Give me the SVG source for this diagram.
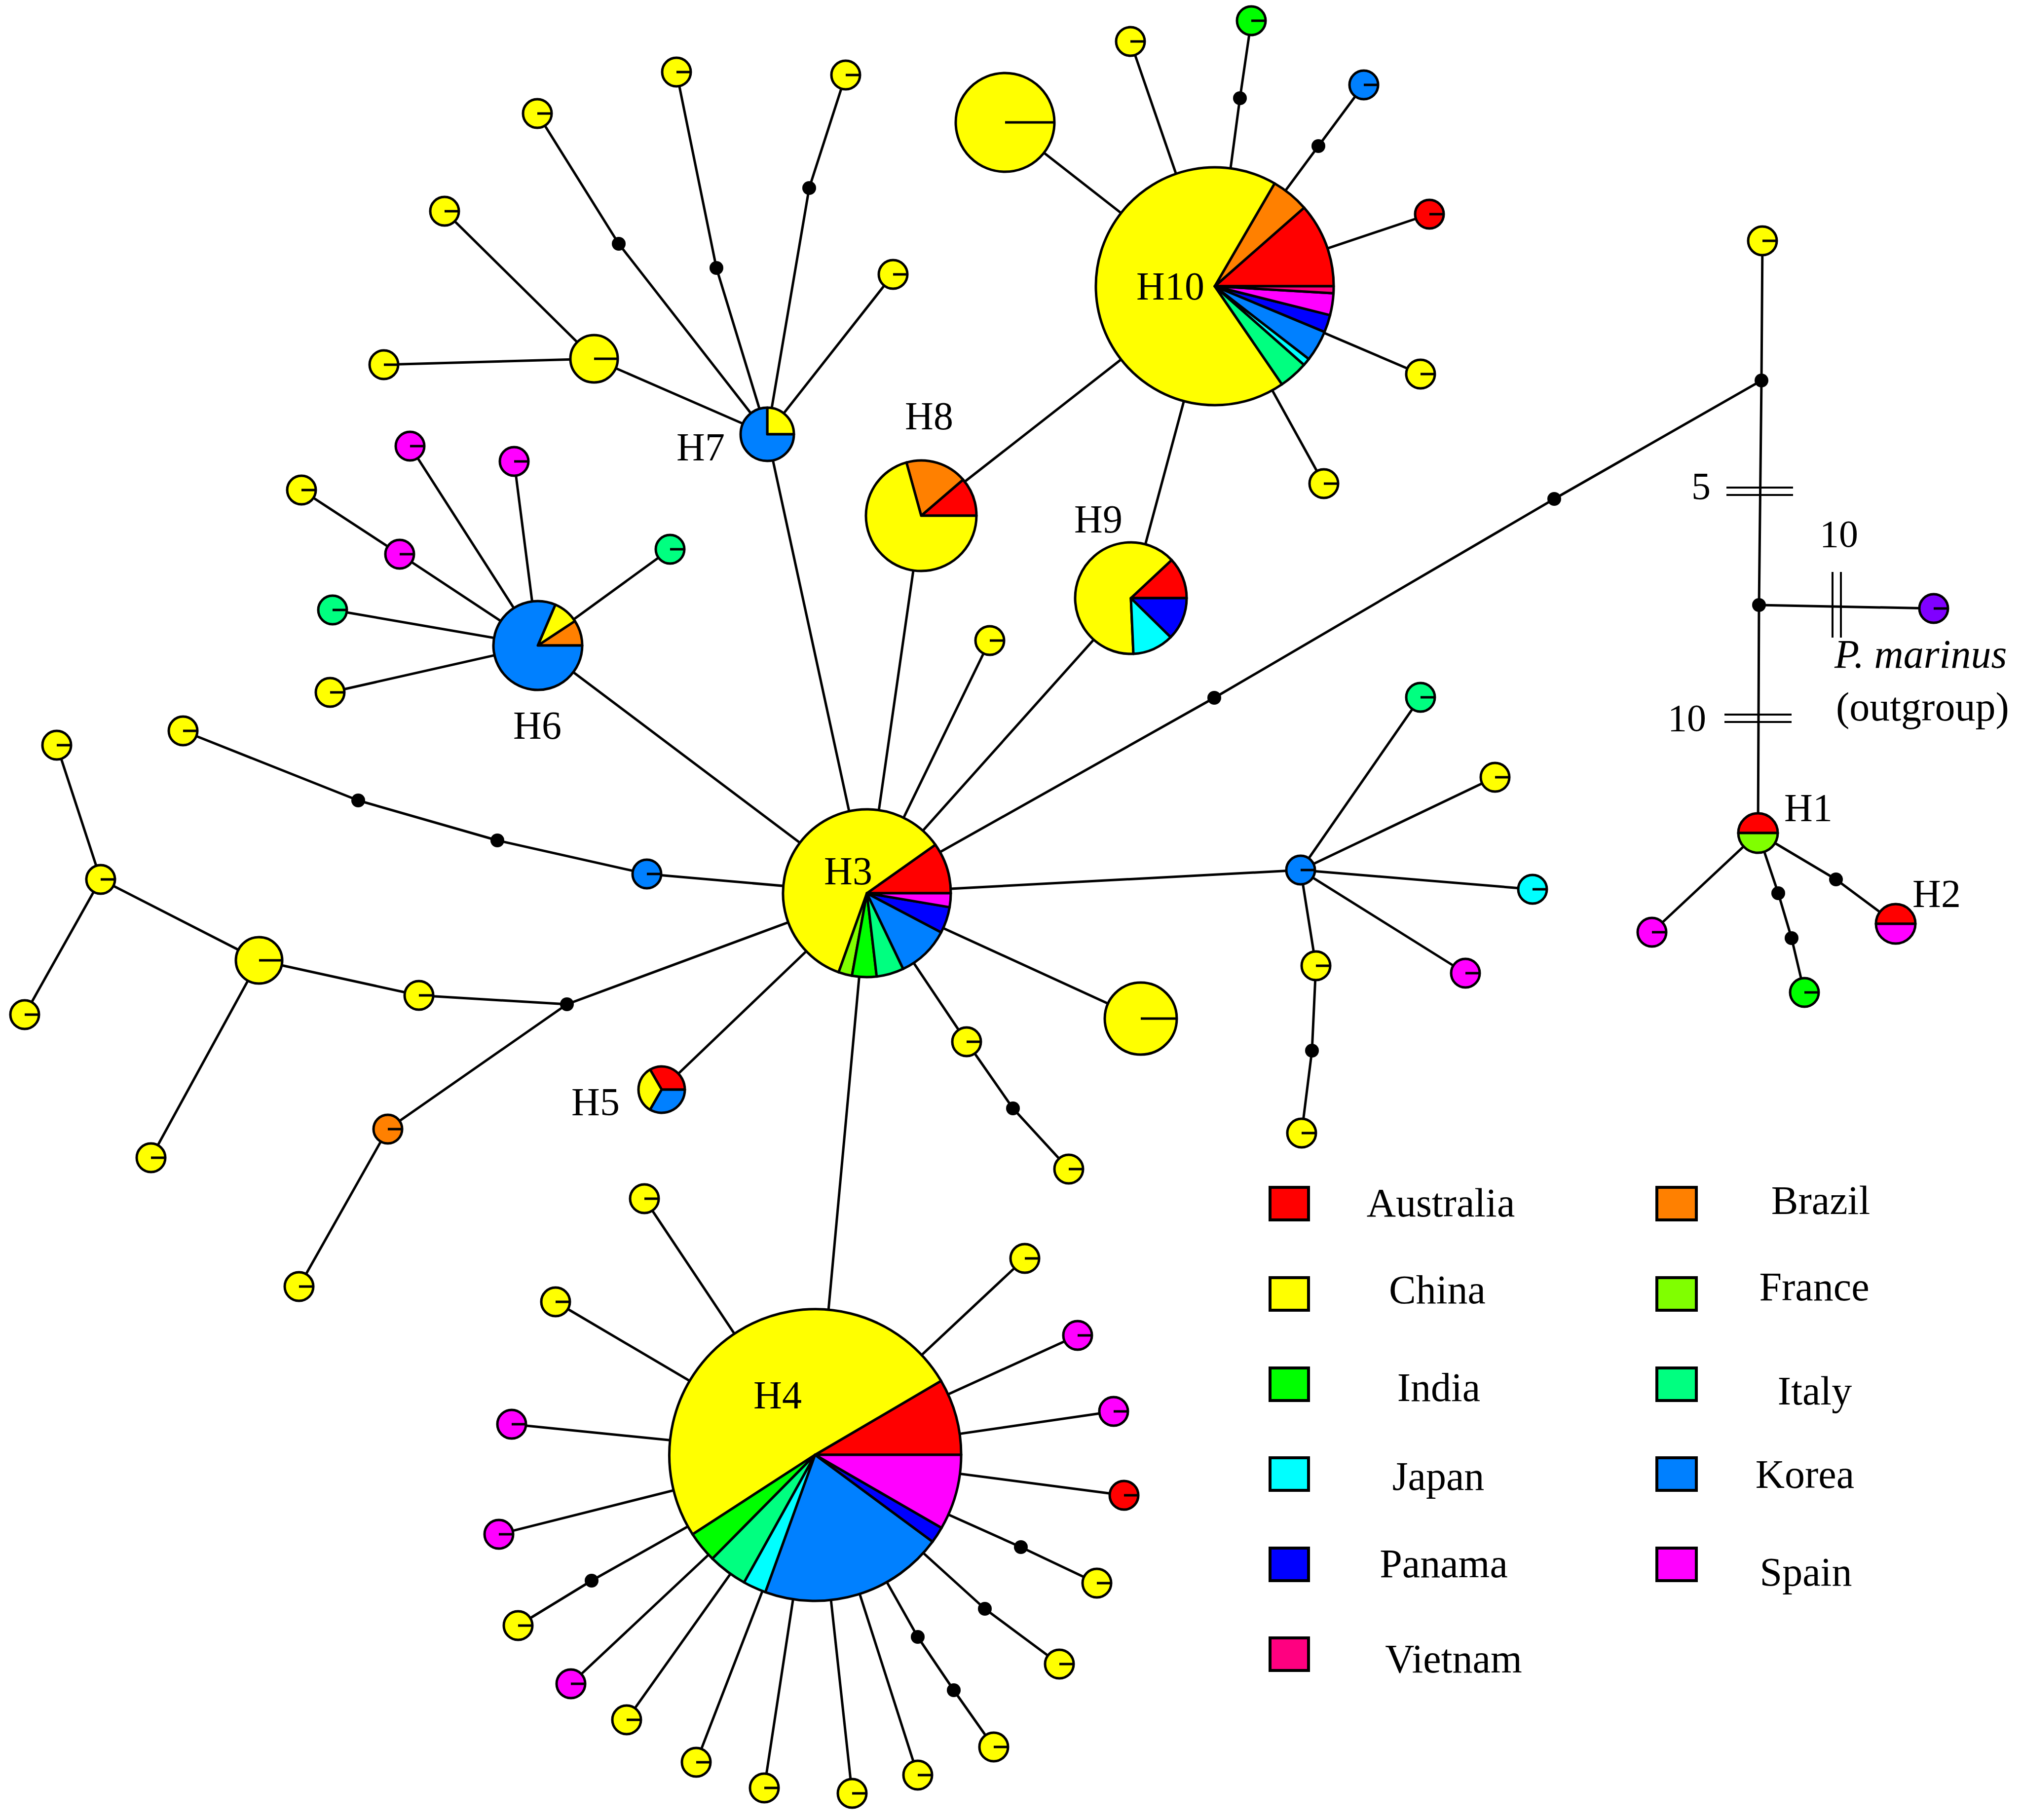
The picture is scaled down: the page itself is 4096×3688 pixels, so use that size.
<svg xmlns="http://www.w3.org/2000/svg" width="4096" height="3688" viewBox="0 0 4096 3688">
<style>
.e path{fill:none;stroke:#000;stroke-width:5;stroke-linejoin:round}
.n circle,.n path{stroke:#000;stroke-width:5;stroke-linejoin:round}
.n .r{fill:none}
.d{fill:#000}
.au{fill:#ff0000}.br{fill:#ff8000}.cn{fill:#ffff00}.fr{fill:#80ff00}.in{fill:#00ff00}.it{fill:#00ff80}.jp{fill:#00ffff}.kr{fill:#0080ff}.pa{fill:#0000ff}.es{fill:#ff00ff}.vn{fill:#ff0080}.pm{fill:#8000ff}
text{font-family:"Liberation Serif","Times New Roman",serif;fill:#000}
.lb{font-size:80px;text-anchor:middle}
.lg{font-size:82px;text-anchor:middle}
.nm{font-size:78px}
.bar{stroke:#000;stroke-width:4;fill:none}
.key rect{stroke:#000;stroke-width:6}
</style>
<rect width="4096" height="3688" fill="#fff"/>
<g id="edges" class="e">
<path d="M1555 880L1810 556"/>
<path d="M1555 880L1640 381L1714 152"/>
<path d="M1555 880L1452 543L1371 146"/>
<path d="M1555 880L1254 494L1089 230"/>
<path d="M1555 880L1204 727"/>
<path d="M1204 727L901 428"/>
<path d="M1204 727L778 739"/>
<path d="M1555 880L1757 1810"/>
<path d="M1090 1308L831 904"/>
<path d="M1090 1308L1042 935"/>
<path d="M1090 1308L810 1123L611 993"/>
<path d="M1090 1308L1358 1113"/>
<path d="M1090 1308L674 1236"/>
<path d="M1090 1308L669 1403"/>
<path d="M1090 1308L1757 1810"/>
<path d="M1757 1810L1867 1045"/>
<path d="M1757 1810L2006 1298"/>
<path d="M1757 1810L2292 1212"/>
<path d="M1757 1810L2461 1414L3150 1011L3570 771"/>
<path d="M1757 1810L2636 1763"/>
<path d="M1757 1810L2312 2064"/>
<path d="M1757 1810L1959 2111L2053 2246L2166 2369"/>
<path d="M1757 1810L1652 2948"/>
<path d="M1757 1810L1341 2208"/>
<path d="M1757 1810L1149 2035L849 2017L525 1946"/>
<path d="M1149 2035L786 2288L606 2607"/>
<path d="M1757 1810L1311 1771L1008 1703L726 1622L371 1481"/>
<path d="M525 1946L306 2346"/>
<path d="M525 1946L204 1782L115 1510"/>
<path d="M204 1782L50 2056"/>
<path d="M2636 1763L2879 1413"/>
<path d="M2636 1763L3030 1575"/>
<path d="M2636 1763L3106 1802"/>
<path d="M2636 1763L2970 1972"/>
<path d="M2636 1763L2667 1957L2659 2129L2638 2296"/>
<path d="M2462 580L2037 248"/>
<path d="M2462 580L2291 84"/>
<path d="M2462 580L2513 199L2536 42"/>
<path d="M2462 580L2672 296L2764 172"/>
<path d="M2462 580L2897 434"/>
<path d="M2462 580L2879 758"/>
<path d="M2462 580L2683 980"/>
<path d="M2462 580L2292 1212"/>
<path d="M2462 580L1867 1045"/>
<path d="M1652 2948L1306 2429"/>
<path d="M1652 2948L1126 2638"/>
<path d="M1652 2948L1037 2886"/>
<path d="M1652 2948L1011 3109"/>
<path d="M1652 2948L1199 3203L1050 3294"/>
<path d="M1652 2948L1157 3412"/>
<path d="M1652 2948L1270 3485"/>
<path d="M1652 2948L1411 3571"/>
<path d="M1652 2948L1549 3623"/>
<path d="M1652 2948L1727 3634"/>
<path d="M1652 2948L1860 3597"/>
<path d="M1652 2948L1860 3317L1933 3425L2014 3540"/>
<path d="M1652 2948L1996 3260L2147 3372"/>
<path d="M1652 2948L2069 3135L2223 3208"/>
<path d="M1652 2948L2278 3030"/>
<path d="M1652 2948L2257 2860"/>
<path d="M1652 2948L2184 2706"/>
<path d="M1652 2948L2077 2550"/>
<path d="M3572 488L3570 771L3565 1226L3563 1688"/>
<path d="M3565 1226L3919 1233"/>
<path d="M3563 1688L3721 1782L3842 1872"/>
<path d="M3563 1688L3604 1810L3631 1901L3657 2011"/>
<path d="M3563 1688L3348 1889"/>
</g>
<g id="mutations">
<path class="bar" d="M3499 988H3634M3499 1003H3634"/>
<path class="bar" d="M3495 1448H3631M3495 1463H3631"/>
<path class="bar" d="M3714 1159V1292M3731 1159V1292"/>
<text class="nm" x="3428" y="1011">5</text>
<text class="nm" x="3380" y="1481">10</text>
<text class="nm" x="3688" y="1108">10</text>
</g>
<g id="median-vectors">
<circle class="d" cx="1254" cy="494" r="14"/>
<circle class="d" cx="1452" cy="543" r="14"/>
<circle class="d" cx="1640" cy="381" r="14"/>
<circle class="d" cx="2513" cy="199" r="14"/>
<circle class="d" cx="2672" cy="296" r="14"/>
<circle class="d" cx="2461" cy="1414" r="14"/>
<circle class="d" cx="3150" cy="1011" r="14"/>
<circle class="d" cx="3570" cy="771" r="14"/>
<circle class="d" cx="3565" cy="1226" r="14"/>
<circle class="d" cx="2659" cy="2129" r="14"/>
<circle class="d" cx="2053" cy="2246" r="14"/>
<circle class="d" cx="1149" cy="2035" r="14"/>
<circle class="d" cx="1008" cy="1703" r="14"/>
<circle class="d" cx="726" cy="1622" r="14"/>
<circle class="d" cx="1199" cy="3203" r="14"/>
<circle class="d" cx="1860" cy="3317" r="14"/>
<circle class="d" cx="1933" cy="3425" r="14"/>
<circle class="d" cx="1996" cy="3260" r="14"/>
<circle class="d" cx="2069" cy="3135" r="14"/>
<circle class="d" cx="3721" cy="1782" r="14"/>
<circle class="d" cx="3604" cy="1810" r="14"/>
<circle class="d" cx="3631" cy="1901" r="14"/>
</g>
<g id="H10" class="n">
<path class="au" d="M2462 580L2703 580A241 241 0 0 0 2643.1 420.9Z"/>
<path class="br" d="M2462 580L2643.1 420.9A241 241 0 0 0 2583.2 371.7Z"/>
<path class="cn" d="M2462 580L2583.2 371.7A241 241 0 1 0 2598.2 778.8Z"/>
<path class="it" d="M2462 580L2598.2 778.8A241 241 0 0 0 2642.8 739.4Z"/>
<path class="jp" d="M2462 580L2642.8 739.4A241 241 0 0 0 2652.7 727.4Z"/>
<path class="kr" d="M2462 580L2652.7 727.4A241 241 0 0 0 2684.5 672.6Z"/>
<path class="pa" d="M2462 580L2684.5 672.6A241 241 0 0 0 2695.7 638.7Z"/>
<path class="es" d="M2462 580L2695.7 638.7A241 241 0 0 0 2702.6 594.3Z"/>
<path class="vn" d="M2462 580L2702.6 594.3A241 241 0 0 0 2703 580Z"/>
<text class="lb" x="2372" y="607">H10</text>
</g>
<g id="H3" class="n">
<path class="au" d="M1757 1810L1927 1810A170 170 0 0 0 1895.7 1711.8Z"/>
<path class="cn" d="M1757 1810L1895.7 1711.8A170 170 0 1 0 1699.7 1970.1Z"/>
<path class="fr" d="M1757 1810L1699.7 1970.1A170 170 0 0 0 1726.6 1977.3Z"/>
<path class="in" d="M1757 1810L1726.6 1977.3A170 170 0 0 0 1776.8 1978.8Z"/>
<path class="it" d="M1757 1810L1776.8 1978.8A170 170 0 0 0 1830.5 1963.3Z"/>
<path class="kr" d="M1757 1810L1830.5 1963.3A170 170 0 0 0 1907.4 1889.3Z"/>
<path class="pa" d="M1757 1810L1907.4 1889.3A170 170 0 0 0 1924.6 1838.4Z"/>
<path class="es" d="M1757 1810L1924.6 1838.4A170 170 0 0 0 1927 1810Z"/>
<text class="lb" x="1719" y="1792">H3</text>
</g>
<g id="H4" class="n">
<path class="au" d="M1652 2948L1948 2948A296 296 0 0 0 1907.3 2798.2Z"/>
<path class="cn" d="M1652 2948L1907.3 2798.2A296 296 0 1 0 1403.7 3109.2Z"/>
<path class="in" d="M1652 2948L1403.7 3109.2A296 296 0 0 0 1443.8 3158.4Z"/>
<path class="it" d="M1652 2948L1443.8 3158.4A296 296 0 0 0 1508.1 3206.6Z"/>
<path class="jp" d="M1652 2948L1508.1 3206.6A296 296 0 0 0 1551.2 3226.3Z"/>
<path class="kr" d="M1652 2948L1551.2 3226.3A296 296 0 0 0 1890 3124.1Z"/>
<path class="pa" d="M1652 2948L1890 3124.1A296 296 0 0 0 1908.3 3096Z"/>
<path class="es" d="M1652 2948L1908.3 3096A296 296 0 0 0 1948 2948Z"/>
<text class="lb" x="1576" y="2854">H4</text>
</g>
<g id="H9" class="n">
<path class="au" d="M2292 1212L2405 1212A113 113 0 0 0 2374.5 1134.8Z"/>
<path class="cn" d="M2292 1212L2374.5 1134.8A113 113 0 1 0 2297.1 1324.9Z"/>
<path class="jp" d="M2292 1212L2297.1 1324.9A113 113 0 0 0 2372.7 1291.1Z"/>
<path class="pa" d="M2292 1212L2372.7 1291.1A113 113 0 0 0 2405 1212Z"/>
<text class="lb" x="2226" y="1079">H9</text>
</g>
<g id="H8" class="n">
<path class="au" d="M1867 1045L1979 1045A112 112 0 0 0 1951.9 972Z"/>
<path class="br" d="M1867 1045L1951.9 972A112 112 0 0 0 1837.1 937.1Z"/>
<path class="cn" d="M1867 1045L1837.1 937.1A112 112 0 1 0 1979 1045Z"/>
<text class="lb" x="1883" y="870">H8</text>
</g>
<g id="H6" class="n">
<path class="br" d="M1090 1308L1180 1308A90 90 0 0 0 1165.1 1258.5Z"/>
<path class="cn" d="M1090 1308L1165.1 1258.5A90 90 0 0 0 1125.5 1225.3Z"/>
<path class="kr" d="M1090 1308L1125.5 1225.3A90 90 0 1 0 1180 1308Z"/>
<text class="lb" x="1089" y="1497">H6</text>
</g>
<g id="H7" class="n">
<path class="cn" d="M1555 880L1609 880A54 54 0 0 0 1555 826Z"/>
<path class="kr" d="M1555 880L1555 826A54 54 0 1 0 1609 880Z"/>
<text class="lb" x="1420" y="933">H7</text>
</g>
<g id="H5" class="n">
<path class="au" d="M1341 2208L1388 2208A47 47 0 0 0 1317.5 2167.3Z"/>
<path class="cn" d="M1341 2208L1317.5 2167.3A47 47 0 0 0 1317.5 2248.7Z"/>
<path class="kr" d="M1341 2208L1317.5 2248.7A47 47 0 0 0 1388 2208Z"/>
<text class="lb" x="1207" y="2260">H5</text>
</g>
<g id="H1" class="n">
<path class="au" d="M3563 1688L3603 1688A40 40 0 0 0 3523 1688Z"/>
<path class="fr" d="M3563 1688L3523 1688A40 40 0 0 0 3603 1688Z"/>
<text class="lb" x="3665" y="1664">H1</text>
</g>
<g id="H2" class="n">
<path class="au" d="M3842 1872L3882 1872A40 40 0 0 0 3802 1872Z"/>
<path class="es" d="M3842 1872L3802 1872A40 40 0 0 0 3882 1872Z"/>
<text class="lb" x="3925" y="1838">H2</text>
</g>
<g id="outgroup" class="n">
<circle class="pm" cx="3919" cy="1233" r="29"/><path class="r" d="M3919 1233h29"/>
<text x="3718" y="1353" font-size="82" font-style="italic">P. marinus</text>
<text x="3721" y="1460" font-size="82">(outgroup)</text>
</g>
<g id="big-yellow" class="n"><circle class="cn" cx="2037" cy="248" r="100"/><path class="r" d="M2037 248h100"/></g>
<g id="mid-yellow-1" class="n"><circle class="cn" cx="1204" cy="727" r="48"/><path class="r" d="M1204 727h48"/></g>
<g id="mid-yellow-2" class="n"><circle class="cn" cx="525" cy="1946" r="47"/><path class="r" d="M525 1946h47"/></g>
<g id="mid-yellow-3" class="n"><circle class="cn" cx="2312" cy="2064" r="73"/><path class="r" d="M2312 2064h73"/></g>
<g id="s01" class="n"><circle class="cn" cx="1371" cy="146" r="29"/><path class="r" d="M1371 146h29"/></g>
<g id="s02" class="n"><circle class="cn" cx="1714" cy="152" r="29"/><path class="r" d="M1714 152h29"/></g>
<g id="s03" class="n"><circle class="cn" cx="1089" cy="230" r="29"/><path class="r" d="M1089 230h29"/></g>
<g id="s04" class="n"><circle class="cn" cx="901" cy="428" r="29"/><path class="r" d="M901 428h29"/></g>
<g id="s05" class="n"><circle class="cn" cx="1810" cy="556" r="29"/><path class="r" d="M1810 556h29"/></g>
<g id="s06" class="n"><circle class="cn" cx="778" cy="739" r="29"/><path class="r" d="M778 739h29"/></g>
<g id="s07" class="n"><circle class="es" cx="831" cy="904" r="29"/><path class="r" d="M831 904h29"/></g>
<g id="s08" class="n"><circle class="es" cx="1042" cy="935" r="29"/><path class="r" d="M1042 935h29"/></g>
<g id="s09" class="n"><circle class="cn" cx="611" cy="993" r="29"/><path class="r" d="M611 993h29"/></g>
<g id="s10" class="n"><circle class="es" cx="810" cy="1123" r="29"/><path class="r" d="M810 1123h29"/></g>
<g id="s11" class="n"><circle class="it" cx="1358" cy="1113" r="29"/><path class="r" d="M1358 1113h29"/></g>
<g id="s12" class="n"><circle class="it" cx="674" cy="1236" r="29"/><path class="r" d="M674 1236h29"/></g>
<g id="s13" class="n"><circle class="cn" cx="669" cy="1403" r="29"/><path class="r" d="M669 1403h29"/></g>
<g id="s14" class="n"><circle class="cn" cx="2291" cy="84" r="29"/><path class="r" d="M2291 84h29"/></g>
<g id="s15" class="n"><circle class="in" cx="2536" cy="42" r="29"/><path class="r" d="M2536 42h29"/></g>
<g id="s16" class="n"><circle class="kr" cx="2764" cy="172" r="29"/><path class="r" d="M2764 172h29"/></g>
<g id="s17" class="n"><circle class="au" cx="2897" cy="434" r="29"/><path class="r" d="M2897 434h29"/></g>
<g id="s18" class="n"><circle class="cn" cx="2879" cy="758" r="29"/><path class="r" d="M2879 758h29"/></g>
<g id="s19" class="n"><circle class="cn" cx="2683" cy="980" r="29"/><path class="r" d="M2683 980h29"/></g>
<g id="s20" class="n"><circle class="cn" cx="2006" cy="1298" r="29"/><path class="r" d="M2006 1298h29"/></g>
<g id="s21" class="n"><circle class="kr" cx="2636" cy="1763" r="29"/><path class="r" d="M2636 1763h29"/></g>
<g id="s22" class="n"><circle class="it" cx="2879" cy="1413" r="29"/><path class="r" d="M2879 1413h29"/></g>
<g id="s23" class="n"><circle class="cn" cx="3030" cy="1575" r="29"/><path class="r" d="M3030 1575h29"/></g>
<g id="s24" class="n"><circle class="jp" cx="3106" cy="1802" r="29"/><path class="r" d="M3106 1802h29"/></g>
<g id="s25" class="n"><circle class="es" cx="2970" cy="1972" r="29"/><path class="r" d="M2970 1972h29"/></g>
<g id="s26" class="n"><circle class="cn" cx="2667" cy="1957" r="29"/><path class="r" d="M2667 1957h29"/></g>
<g id="s27" class="n"><circle class="cn" cx="2638" cy="2296" r="29"/><path class="r" d="M2638 2296h29"/></g>
<g id="s28" class="n"><circle class="cn" cx="1959" cy="2111" r="29"/><path class="r" d="M1959 2111h29"/></g>
<g id="s29" class="n"><circle class="cn" cx="2166" cy="2369" r="29"/><path class="r" d="M2166 2369h29"/></g>
<g id="s30" class="n"><circle class="cn" cx="849" cy="2017" r="29"/><path class="r" d="M849 2017h29"/></g>
<g id="s31" class="n"><circle class="br" cx="786" cy="2288" r="29"/><path class="r" d="M786 2288h29"/></g>
<g id="s32" class="n"><circle class="cn" cx="606" cy="2607" r="29"/><path class="r" d="M606 2607h29"/></g>
<g id="s33" class="n"><circle class="kr" cx="1311" cy="1771" r="29"/><path class="r" d="M1311 1771h29"/></g>
<g id="s34" class="n"><circle class="cn" cx="371" cy="1481" r="29"/><path class="r" d="M371 1481h29"/></g>
<g id="s35" class="n"><circle class="cn" cx="306" cy="2346" r="29"/><path class="r" d="M306 2346h29"/></g>
<g id="s36" class="n"><circle class="cn" cx="204" cy="1782" r="29"/><path class="r" d="M204 1782h29"/></g>
<g id="s37" class="n"><circle class="cn" cx="115" cy="1510" r="29"/><path class="r" d="M115 1510h29"/></g>
<g id="s38" class="n"><circle class="cn" cx="50" cy="2056" r="29"/><path class="r" d="M50 2056h29"/></g>
<g id="s39" class="n"><circle class="cn" cx="1306" cy="2429" r="29"/><path class="r" d="M1306 2429h29"/></g>
<g id="s40" class="n"><circle class="cn" cx="1126" cy="2638" r="29"/><path class="r" d="M1126 2638h29"/></g>
<g id="s41" class="n"><circle class="es" cx="1037" cy="2886" r="29"/><path class="r" d="M1037 2886h29"/></g>
<g id="s42" class="n"><circle class="es" cx="1011" cy="3109" r="29"/><path class="r" d="M1011 3109h29"/></g>
<g id="s43" class="n"><circle class="cn" cx="1050" cy="3294" r="29"/><path class="r" d="M1050 3294h29"/></g>
<g id="s44" class="n"><circle class="es" cx="1157" cy="3412" r="29"/><path class="r" d="M1157 3412h29"/></g>
<g id="s45" class="n"><circle class="cn" cx="1270" cy="3485" r="29"/><path class="r" d="M1270 3485h29"/></g>
<g id="s46" class="n"><circle class="cn" cx="1411" cy="3571" r="29"/><path class="r" d="M1411 3571h29"/></g>
<g id="s47" class="n"><circle class="cn" cx="1549" cy="3623" r="29"/><path class="r" d="M1549 3623h29"/></g>
<g id="s48" class="n"><circle class="cn" cx="1727" cy="3634" r="29"/><path class="r" d="M1727 3634h29"/></g>
<g id="s49" class="n"><circle class="cn" cx="1860" cy="3597" r="29"/><path class="r" d="M1860 3597h29"/></g>
<g id="s50" class="n"><circle class="cn" cx="2014" cy="3540" r="29"/><path class="r" d="M2014 3540h29"/></g>
<g id="s51" class="n"><circle class="cn" cx="2147" cy="3372" r="29"/><path class="r" d="M2147 3372h29"/></g>
<g id="s52" class="n"><circle class="cn" cx="2223" cy="3208" r="29"/><path class="r" d="M2223 3208h29"/></g>
<g id="s53" class="n"><circle class="au" cx="2278" cy="3030" r="29"/><path class="r" d="M2278 3030h29"/></g>
<g id="s54" class="n"><circle class="es" cx="2257" cy="2860" r="29"/><path class="r" d="M2257 2860h29"/></g>
<g id="s55" class="n"><circle class="es" cx="2184" cy="2706" r="29"/><path class="r" d="M2184 2706h29"/></g>
<g id="s56" class="n"><circle class="cn" cx="2077" cy="2550" r="29"/><path class="r" d="M2077 2550h29"/></g>
<g id="s57" class="n"><circle class="cn" cx="3572" cy="488" r="29"/><path class="r" d="M3572 488h29"/></g>
<g id="s58" class="n"><circle class="es" cx="3348" cy="1889" r="29"/><path class="r" d="M3348 1889h29"/></g>
<g id="s59" class="n"><circle class="in" cx="3657" cy="2011" r="29"/><path class="r" d="M3657 2011h29"/></g>
<g id="legend" class="key">
<rect class="au" x="2574" y="2406" width="78" height="66"/>
<rect class="cn" x="2574" y="2589" width="78" height="66"/>
<rect class="in" x="2574" y="2772" width="78" height="66"/>
<rect class="jp" x="2574" y="2954" width="78" height="66"/>
<rect class="pa" x="2574" y="3137" width="78" height="66"/>
<rect class="vn" x="2574" y="3319" width="78" height="66"/>
<rect class="br" x="3358" y="2406" width="80" height="66"/>
<rect class="fr" x="3358" y="2589" width="80" height="66"/>
<rect class="it" x="3358" y="2772" width="80" height="66"/>
<rect class="kr" x="3358" y="2954" width="80" height="66"/>
<rect class="es" x="3358" y="3137" width="80" height="66"/>
<text class="lg" x="2920" y="2465">Australia</text>
<text class="lg" x="2913" y="2641">China</text>
<text class="lg" x="2916" y="2839">India</text>
<text class="lg" x="2915" y="3019">Japan</text>
<text class="lg" x="2926" y="3196">Panama</text>
<text class="lg" x="2946" y="3389">Vietnam</text>
<text class="lg" x="3690" y="2460">Brazil</text>
<text class="lg" x="3677" y="2635">France</text>
<text class="lg" x="3678" y="2846">Italy</text>
<text class="lg" x="3658" y="3015">Korea</text>
<text class="lg" x="3660" y="3213">Spain</text>
</g>
</svg>
